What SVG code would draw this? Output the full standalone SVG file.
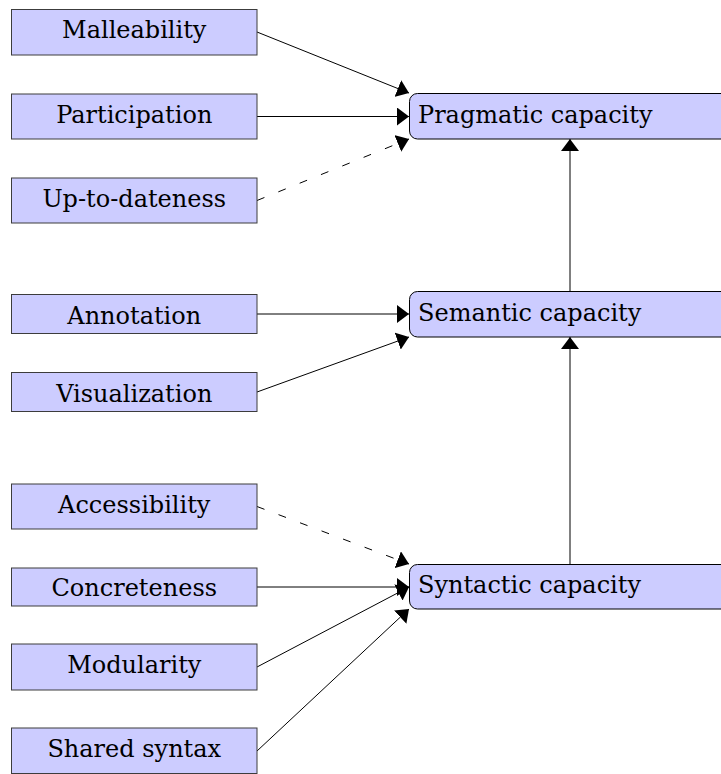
<svg xmlns="http://www.w3.org/2000/svg" width="721" height="774" viewBox="0 0 721 774">
  <style>
    .box { fill: #ccccff; stroke: #3c3c3c; stroke-width: 1; }
    .cap { fill: #ccccff; stroke: #000000; stroke-width: 1; }
    .lbl { font-family: "DejaVu Serif", "Liberation Serif", serif; font-size: 24px; fill: #000000; }
    .mid { text-anchor: middle; }
    .edge { fill: none; stroke: #000000; stroke-width: 1; marker-end: url(#arrow); }
    .dash { stroke-dasharray: 8 15; }
  </style>
  <defs>
    <marker id="arrow" markerUnits="userSpaceOnUse" viewBox="0 0 12 18" markerWidth="12" markerHeight="18" refX="12" refY="9" orient="auto">
      <path d="M0,0 L12,9 L0,18 Z" fill="#000000"/>
    </marker>
  </defs>

  <rect width="721" height="774" fill="#ffffff"/>

  <!-- connectors -->
  <g id="connectors">
    <!-- into pragmatic capacity -->
    <path class="edge" d="M257,32 L409,93"/>
    <path class="edge" d="M257,116.5 L409,116.5"/>
    <path class="edge dash" d="M257,200.5 L409,139"/>
    <!-- into semantic capacity -->
    <path class="edge" d="M257,314 L409,314"/>
    <path class="edge" d="M257,392 L409,337"/>
    <!-- into syntactic capacity -->
    <path class="edge dash" d="M257,506.5 L409,564"/>
    <path class="edge" d="M257,587 L409,587"/>
    <path class="edge" d="M257,667 L409,587"/>
    <path class="edge" d="M257,751 L409,609"/>
    <!-- capacity chain -->
    <path class="edge" d="M570,564 L570,337"/>
    <path class="edge" d="M570,291 L570,139"/>
  </g>

  <!-- capacity nodes -->
  <g id="pragmatic">
    <rect class="cap" x="409.5" y="93.5" width="400" height="45.5" rx="8" ry="8"/>
    <text class="lbl" x="418" y="123">Pragmatic capacity</text>
  </g>
  <g id="semantic">
    <rect class="cap" x="409.5" y="291.5" width="400" height="45.5" rx="8" ry="8"/>
    <text class="lbl" x="418" y="321">Semantic capacity</text>
  </g>
  <g id="syntactic">
    <rect class="cap" x="409.5" y="564.5" width="400" height="44.5" rx="8" ry="8"/>
    <text class="lbl" x="418" y="593">Syntactic capacity</text>
  </g>

  <!-- property nodes -->
  <g id="malleability">
    <rect class="box" x="11.5" y="9.5" width="245.5" height="45.5"/>
    <text class="lbl mid" x="134.25" y="38">Malleability</text>
  </g>
  <g id="participation">
    <rect class="box" x="11.5" y="94" width="245.5" height="45"/>
    <text class="lbl mid" x="134.25" y="123">Participation</text>
  </g>
  <g id="up-to-dateness">
    <rect class="box" x="11.5" y="178" width="245.5" height="45"/>
    <text class="lbl mid" x="134.25" y="207">Up-to-dateness</text>
  </g>
  <g id="annotation">
    <rect class="box" x="11.5" y="294.5" width="245.5" height="39"/>
    <text class="lbl mid" x="134.25" y="324">Annotation</text>
  </g>
  <g id="visualization">
    <rect class="box" x="11.5" y="372.5" width="245.5" height="39"/>
    <text class="lbl mid" x="134.25" y="402">Visualization</text>
  </g>
  <g id="accessibility">
    <rect class="box" x="11.5" y="484" width="245.5" height="45"/>
    <text class="lbl mid" x="134.25" y="513">Accessibility</text>
  </g>
  <g id="concreteness">
    <rect class="box" x="11.5" y="568" width="245.5" height="38"/>
    <text class="lbl mid" x="134.25" y="596">Concreteness</text>
  </g>
  <g id="modularity">
    <rect class="box" x="11.5" y="644" width="245.5" height="46"/>
    <text class="lbl mid" x="134.25" y="673">Modularity</text>
  </g>
  <g id="shared-syntax">
    <rect class="box" x="11.5" y="728" width="245.5" height="45.5"/>
    <text class="lbl mid" x="134.25" y="757">Shared syntax</text>
  </g>
</svg>
